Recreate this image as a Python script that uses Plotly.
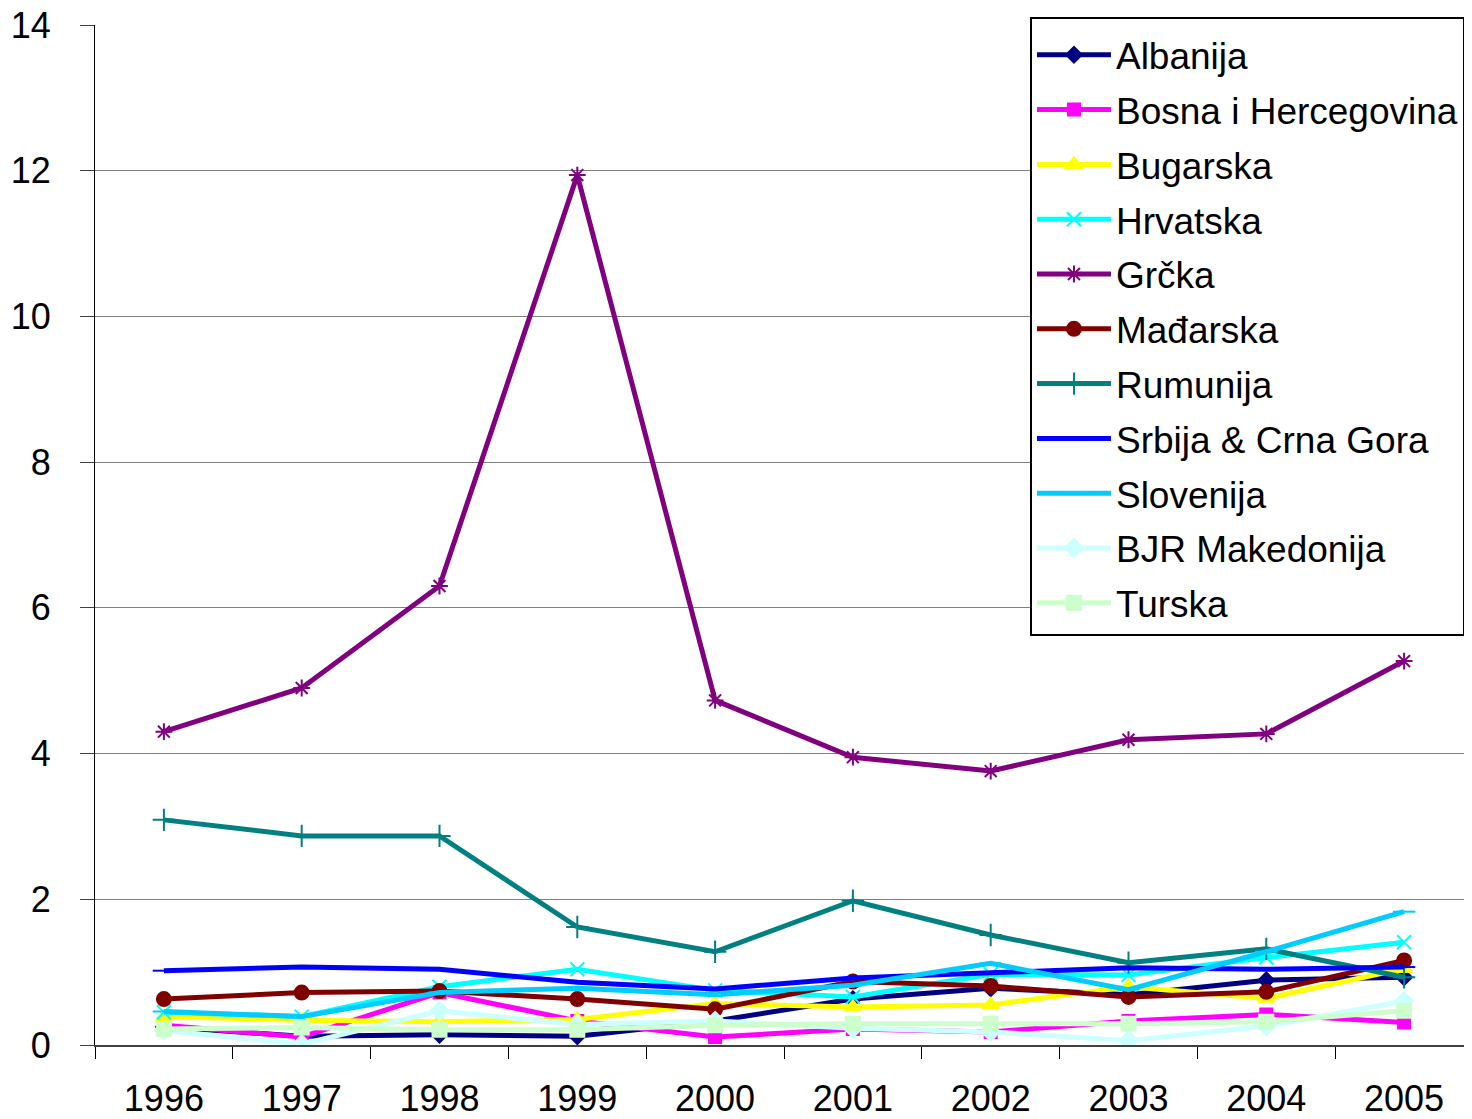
import plotly.graph_objects as go

years = ["1996", "1997", "1998", "1999", "2000", "2001", "2002", "2003", "2004", "2005"]

albanija = [0.25, 0.12, 0.14, 0.12, 0.33, 0.63, 0.78, 0.69, 0.89, 0.93]
bosna = [0.27, 0.11, 0.72, 0.33, 0.11, 0.22, 0.18, 0.33, 0.42, 0.31]
bugarska = [0.39, 0.34, 0.32, 0.35, 0.57, 0.52, 0.55, 0.80, 0.64, 1.05]
hrvatska = [0.45, 0.39, 0.80, 1.04, 0.75, 0.66, 0.97, 0.96, 1.20, 1.41]
grcka = [4.30, 4.90, 6.30, 11.94, 4.73, 3.95, 3.76, 4.19, 4.27, 5.27]
madjarska = [0.63, 0.72, 0.74, 0.63, 0.49, 0.87, 0.81, 0.66, 0.73, 1.16]
rumunija = [3.09, 2.87, 2.87, 1.62, 1.28, 1.98, 1.51, 1.13, 1.32, 0.93]
srbija = [1.02, 1.07, 1.04, 0.86, 0.77, 0.92, 0.99, 1.06, 1.04, 1.07]
slovenija = [0.46, 0.39, 0.72, 0.78, 0.69, 0.82, 1.12, 0.76, 1.28, 1.83]
makedonija = [0.20, 0.01, 0.47, 0.28, 0.33, 0.23, 0.18, 0.06, 0.26, 0.60]
turska = [0.22, 0.24, 0.21, 0.21, 0.27, 0.29, 0.29, 0.29, 0.32, 0.47]

series = [
    ("Albanija", albanija, "#000080", "diamond", 12),
    ("Bosna i Hercegovina", bosna, "#FF00FF", "square", 12),
    ("Bugarska", bugarska, "#FFFF00", "triangle-up", 14),
    ("Hrvatska", hrvatska, "#00FFFF", "x-thin-open", 14),
    ("Grčka", grcka, "#800080", "asterisk-open", 14),
    ("Mađarska", madjarska, "#800000", "circle", 14),
    ("Rumunija", rumunija, "#008080", "cross-thin-open", 16),
    ("Srbija & Crna Gora", srbija, "#0000FF", "line-ew-open", 16),
    ("Slovenija", slovenija, "#00CCFF", "line-ew-open", 16),
    ("BJR Makedonija", makedonija, "#CCFFFF", "diamond", 14),
    ("Turska", turska, "#CCFFCC", "square", 14),
]

fig = go.Figure()
for name, vals, color, sym, size in series:
    fig.add_trace(go.Scatter(
        x=years, y=vals, name=name, legendgroup=name, mode="lines+markers",
        line=dict(color=color, width=5),
        marker=dict(symbol=sym, size=size, color=color,
                    line=dict(color=color, width=2)),
    ))

fig.update_layout(
    width=1465, height=1111,
    margin=dict(l=87, r=0, t=17, b=74, autoexpand=False),
    paper_bgcolor="white", plot_bgcolor="white",
    font=dict(family="Liberation Sans, Arial, sans-serif", size=34, color="black"),
    showlegend=True,
    legend=dict(
        x=0.6785, y=1.0078, xanchor="left", yanchor="top",
        bgcolor="white", bordercolor="black", borderwidth=2,
        font=dict(size=37), itemwidth=74, tracegroupgap=3.7,
        entrywidth=470, entrywidthmode="pixels", maxheight=800,
        title=dict(text=" ", font=dict(size=4)),
    ),
    xaxis=dict(
        type="category", range=[-0.5, 9.5], automargin=False,
        showline=True, linecolor="#404040", linewidth=2,
        ticks="outside", ticklen=12, tickcolor="black", tickson="boundaries",
        showgrid=False, zeroline=False, ticklabeloverflow="allow",
        tickfont=dict(size=36), ticklabelstandoff=21,
    ),
    yaxis=dict(
        range=[0, 14], dtick=2, automargin=False,
        showline=True, linecolor="black", linewidth=1,
        ticks="outside", ticklen=14, tickcolor="#404040",
        showgrid=True, gridcolor="#808080", gridwidth=1,
        zeroline=False, tickfont=dict(size=36), ticklabelstandoff=22,
        ticklabeloverflow="allow",
    ),
)

fig.write_html("out.html")
